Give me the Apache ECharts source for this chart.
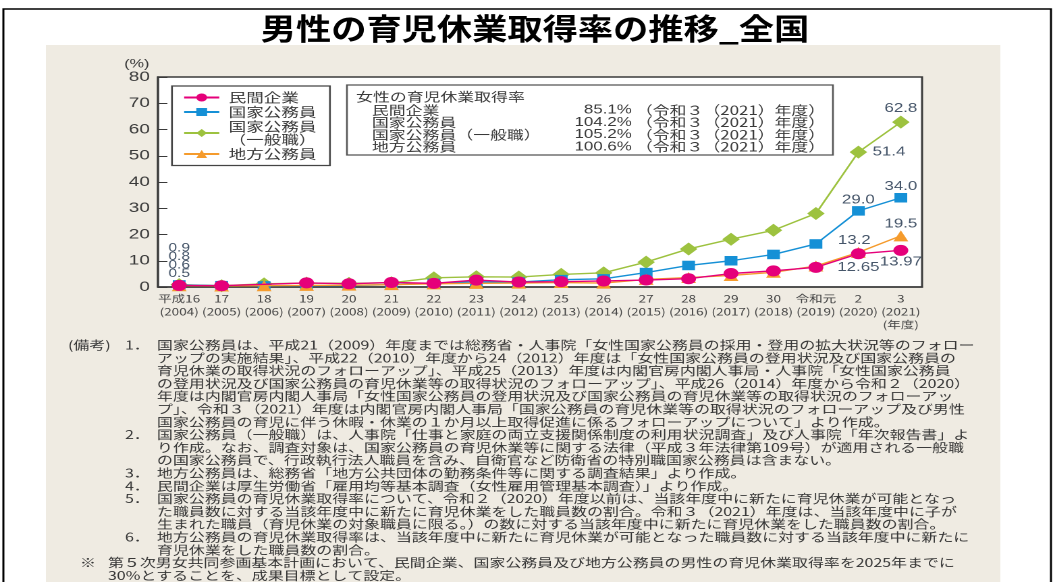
<!DOCTYPE html>
<html lang="ja">
<head>
<meta charset="utf-8">
<title>男性の育児休業取得率の推移_全国</title>
<script src="https://cdn.jsdelivr.net/npm/echarts@6/dist/echarts.min.js"></script>
<style>
  html, body { margin: 0; padding: 0; background: #fff; overflow: hidden; }
  #stage { width: 1057px; height: 582px; position: relative; overflow: hidden; }
  /* the figure is laid out on a narrower canvas and widened horizontally */
  #chart { width: 783px; height: 582px; transform: scaleX(1.35); transform-origin: 0 0; }
</style>
</head>
<body>
<div id="stage"><div id="chart"></div></div>
<script>
// ---- data -------------------------------------------------------------
const eraLabels  = ['平成16', '17', '18', '19', '20', '21', '22', '23', '24', '25', '26', '27', '28', '29', '30', '令和元', '2', '3'];
const yearLabels = ['2004', '2005', '2006', '2007', '2008', '2009', '2010', '2011', '2012', '2013', '2014', '2015', '2016', '2017', '2018', '2019', '2020', '2021'];

// 男性の育児休業取得率 (%)
const privateSector   = [0.6, 0.50, null, 1.56, 1.23, 1.72, 1.38, 2.63, 1.89, 2.03, 2.30, 2.65, 3.16, 5.14, 6.16, 7.48, 12.65, 13.97];
const nationalService = [0.8, 0.5, 0.4, 0.5, 0.6, 0.9, 1.4, 2.0, 1.9, 2.8, 3.1, 5.5, 8.2, 10.0, 12.4, 16.4, 29.0, 34.0];
const nationalGeneral = [0.9, 0.5, 1.2, 1.5, 1.4, 1.6, 3.5, 3.9, 3.8, 4.8, 5.4, 9.5, 14.5, 18.2, 21.6, 28.0, 51.4, 62.8];
const localService    = [0.5, 0.4, 0.5, 0.6, 0.7, 0.9, 1.2, 1.4, 1.5, 1.7, 1.5, 2.9, 3.6, 4.4, 5.6, 8.0, 13.2, 19.5];

const seriesNames = ['民間企業', '国家公務員', '国家公務員\n（一般職）', '地方公務員'];

// 女性の育児休業取得率 (令和3年度)
const femaleItems  = ['民間企業', '国家公務員', '国家公務員（一般職）', '地方公務員'];
const femaleRates  = [85.1, 104.2, 105.2, 100.6];
const femaleSuffix = '（令和３（2021）年度）';

const yMin = 0, yMax = 80, yStep = 10;

// 備考
const note1 = [
  '国家公務員は、平成21（2009）年度までは総務省・人事院「女性国家公務員の採用・登用の拡大状況等のフォロー',
  'アップの実施結果」、平成22（2010）年度から24（2012）年度は「女性国家公務員の登用状況及び国家公務員の',
  '育児休業の取得状況のフォローアップ」、平成25（2013）年度は内閣官房内閣人事局・人事院「女性国家公務員',
  'の登用状況及び国家公務員の育児休業等の取得状況のフォローアップ」、平成26（2014）年度から令和２（2020）',
  '年度は内閣官房内閣人事局「女性国家公務員の登用状況及び国家公務員の育児休業等の取得状況のフォローアッ',
  'プ」、令和３（2021）年度は内閣官房内閣人事局「国家公務員の育児休業等の取得状況のフォローアップ及び男性',
  '国家公務員の育児に伴う休暇・休業の１か月以上取得促進に係るフォローアップについて」より作成。'
];
const note2 = [
  '国家公務員（一般職）は、人事院「仕事と家庭の両立支援関係制度の利用状況調査」及び人事院「年次報告書」よ',
  'り作成。なお、調査対象は、国家公務員の育児休業等に関する法律（平成３年法律第109号）が適用される一般職',
  'の国家公務員で、行政執行法人職員を含み、自衛官など防衛省の特別職国家公務員は含まない。'
];
const note3 = ['地方公務員は、総務省「地方公共団体の勤務条件等に関する調査結果」より作成。'];
const note4 = ['民間企業は厚生労働省「雇用均等基本調査（女性雇用管理基本調査）」より作成。'];
const note5 = [
  '国家公務員の育児休業取得率について、令和２（2020）年度以前は、当該年度中に新たに育児休業が可能となっ',
  'た職員数に対する当該年度中に新たに育児休業をした職員数の割合。令和３（2021）年度は、当該年度中に子が',
  '生まれた職員（育児休業の対象職員に限る。）の数に対する当該年度中に新たに育児休業をした職員数の割合。'
];
const note6 = [
  '地方公務員の育児休業取得率は、当該年度中に新たに育児休業が可能となった職員数に対する当該年度中に新たに',
  '育児休業をした職員数の割合。'
];
const targetNote = [
  '第５次男女共同参画基本計画において、民間企業、国家公務員及び地方公務員の男性の育児休業取得率を2025年までに',
  '30%とすることを、成果目標として設定。'
];

// ---- drawing ------------------------------------------------------------
const SX = 1.35;
const JP = "'Noto Sans CJK JP', 'Noto Sans', sans-serif";
const NUM = "'Liberation Sans', 'Noto Sans CJK JP', sans-serif";
const LABEL_COLOR = '#46566a';
const INK = '#3a3a3a';

const categories = eraLabels.map((era, i) =>
  era + '\n(' + yearLabels[i] + ')' + (i === eraLabels.length - 1 ? '\n(年度)' : ''));

// value labels: series index -> data index -> placement
const labelSpecs = [
  { 0: { position: 'inside', offset: [0, -20], digits: 1, fontSize: 11.5 },
    16: { position: 'bottom', distance: 2, digits: 2 },
    17: { position: 'bottom', distance: 0, digits: 2 } },
  { 0: { position: 'inside', offset: [0, -28], digits: 1, fontSize: 11.5 },
    16: { position: 'top', distance: 0, digits: 1 },
    17: { position: 'top', distance: 0, digits: 1 } },
  { 0: { position: 'inside', offset: [0, -36.5], digits: 1, fontSize: 11.5 },
    16: { position: 'right', distance: 4, digits: 1 },
    17: { position: 'top', distance: 1, digits: 1 } },
  { 0: { position: 'inside', offset: [0, -12], digits: 1, fontSize: 11.5 },
    16: { position: 'top', distance: 0, offset: [-3, 0], digits: 1 },
    17: { position: 'top', distance: 0, digits: 1 } }
];

function buildData(values, specs) {
  return values.map((v, i) => {
    if (v === null) return '-';
    const s = specs[i];
    if (!s) return v;
    return {
      value: v,
      label: {
        show: true,
        position: s.position,
        distance: s.distance !== undefined ? s.distance : 5,
        offset: s.offset || [0, 0],
        formatter: p => Number(p.value).toFixed(s.digits),
        color: LABEL_COLOR,
        fontFamily: NUM,
        fontSize: s.fontSize || 12.5
      }
    };
  });
}

const palette = ['#e5007a', '#1590d6', '#9dc23f', '#f59b2c'];
const symbols = ['circle', 'rect', 'diamond', 'triangle'];
const symbolSizes = [11, 9.5, 13, 11];
const seriesValues = [privateSector, nationalService, nationalGeneral, localService];
const zOrder = [6, 4, 3, 5];

const series = seriesValues.map((vals, k) => ({
  name: seriesNames[k],
  type: 'line',
  data: buildData(vals, labelSpecs[k]),
  connectNulls: true,
  symbol: symbols[k],
  symbolSize: symbolSizes[k],
  showAllSymbol: true,
  color: palette[k],
  lineStyle: { width: 1.4, color: palette[k] },
  itemStyle: { color: palette[k] },
  z: zOrder[k]
}));

// notes block
const noteTop = 345, noteStep = 12.8;
const noteFont = { fontFamily: JP, fontSize: 11.8, fill: '#363636', lineHeight: noteStep };
const noteBlocks = [
  { mark: '1．', lines: note1, row: 0 },
  { mark: '2．', lines: note2, row: 7 },
  { mark: '3．', lines: note3, row: 10 },
  { mark: '4．', lines: note4, row: 11 },
  { mark: '5．', lines: note5, row: 12 },
  { mark: '6．', lines: note6, row: 15 }
];
const graphics = [];

// outer frame and panel
graphics.push({ type: 'rect', z: -20, silent: true,
  shape: { x: 34, y: 45, width: 707, height: 560 }, style: { fill: '#efebe2' } });
graphics.push({ type: 'rect', z: -19, silent: true,
  shape: { x: 2.5, y: 9, width: 776, height: 640 }, style: { fill: 'none', stroke: '#000', lineWidth: 1.5 } });

// title (drawn at its natural width)
graphics.push({ type: 'text', x: 396.3, y: 28.5, scaleX: 0.87, z: 10,
  style: { text: '男性の育児休業取得率の推移_全国', textAlign: 'center', textVerticalAlign: 'middle',
    fontFamily: JP, fontWeight: 'bold', fontSize: 30, fill: '#000' } });

// unit
graphics.push({ type: 'text', x: 101.3, y: 64, z: 10,
  style: { text: '(%)', textAlign: 'center', textVerticalAlign: 'middle', fontFamily: NUM, fontSize: 12, fill: INK } });

// 女性の育児休業取得率 box
const boxChildren = [
  { type: 'rect', shape: { x: 257, y: 85, width: 360, height: 70 },
    style: { fill: '#fff', stroke: '#555', lineWidth: 1.3 } },
  { type: 'text', x: 263.7, y: 96.5,
    style: { text: '女性の育児休業取得率', textVerticalAlign: 'middle', fontFamily: JP, fontSize: 12.5, fill: INK } }
];
femaleItems.forEach((name, i) => {
  const y = 110 + i * 12.3;
  boxChildren.push({ type: 'text', x: 275.5, y,
    style: { text: name, textVerticalAlign: 'middle', fontFamily: JP, fontSize: 12.5, fill: INK } });
  boxChildren.push({ type: 'text', x: 468, y,
    style: { text: femaleRates[i].toFixed(1) + '%', textAlign: 'right', textVerticalAlign: 'middle', fontFamily: NUM, fontSize: 12.5, fill: INK } });
  boxChildren.push({ type: 'text', x: 471, y,
    style: { text: femaleSuffix, textVerticalAlign: 'middle', fontFamily: JP, fontSize: 12.5, fill: INK } });
});
graphics.push({ type: 'group', z: 20, children: boxChildren });

// 備考
const noteY = row => noteTop + row * noteStep - noteStep / 2;
graphics.push({ type: 'text', x: 50.4, y: noteY(0),
  style: Object.assign({ text: '(備考)', textVerticalAlign: 'top' }, noteFont) });
noteBlocks.forEach(b => {
  graphics.push({ type: 'text', x: 92.6, y: noteY(b.row),
    style: Object.assign({ text: b.mark, textVerticalAlign: 'top' }, noteFont) });
  graphics.push({ type: 'text', x: 116.3, y: noteY(b.row),
    style: Object.assign({ text: b.lines.join('\n'), textVerticalAlign: 'top' }, noteFont) });
});
graphics.push({ type: 'text', x: 59.3, y: noteY(17),
  style: Object.assign({ text: '※', textVerticalAlign: 'top' }, noteFont) });
graphics.push({ type: 'text', x: 80, y: noteY(17),
  style: Object.assign({ text: targetNote.join('\n'), textVerticalAlign: 'top' }, noteFont) });

const chart = echarts.init(document.getElementById('chart'), null, { renderer: 'canvas', devicePixelRatio: 2 });
chart.setOption({
  animation: false,
  backgroundColor: 'transparent',
  textStyle: { fontFamily: JP },
  grid: { left: 117, right: 100, top: 77, bottom: 295, show: true, backgroundColor: '#fff',
    borderColor: INK, borderWidth: 1.5 },
  legend: {
    orient: 'vertical', left: 127.4, top: 86,
    data: seriesNames,
    selectedMode: false,
    itemWidth: 26, itemHeight: 10, itemGap: 1.5,
    padding: [5, 10, 5, 8],
    backgroundColor: '#fff', borderColor: '#444', borderWidth: 1.3,
    textStyle: { fontFamily: JP, fontSize: 13, lineHeight: 13, color: INK, padding: [0, 0, 0, 2] }
  },
  xAxis: {
    type: 'category', data: categories, boundaryGap: true,
    axisLine: { lineStyle: { color: INK, width: 1.5 } },
    axisTick: { alignWithLabel: true, inside: true, length: 5, lineStyle: { color: INK } },
    axisLabel: { interval: 0, fontFamily: JP, fontSize: 10, lineHeight: 13, color: '#444', margin: 5 }
  },
  yAxis: {
    type: 'value', min: yMin, max: yMax, interval: yStep,
    axisLine: { show: true, lineStyle: { color: INK, width: 1.5 } },
    axisTick: { show: true, inside: true, length: 7, lineStyle: { color: INK } },
    splitLine: { show: false },
    axisLabel: { fontFamily: NUM, fontSize: 14, color: INK, margin: 6 }
  },
  graphic: graphics,
  series
});
</script>
</body>
</html>
